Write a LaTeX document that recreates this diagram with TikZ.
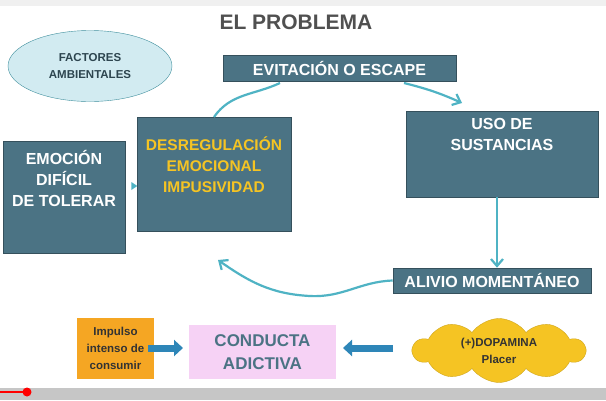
\documentclass[tikz,border=0pt]{standalone}
\usepackage{fontspec}
\setmainfont{Liberation Sans}
\usetikzlibrary{shapes.geometric,shapes.symbols,arrows.meta}
\definecolor{slate}{HTML}{4B7384}
\definecolor{teal}{HTML}{4FB3C4}
\definecolor{ell}{HTML}{D2EBF1}
\definecolor{ora}{HTML}{F5A623}
\definecolor{pink}{HTML}{F6D2F5}
\definecolor{yel}{HTML}{F5C423}
\definecolor{arrb}{HTML}{2E86B8}
\definecolor{titleg}{HTML}{505050}
\begin{document}
\begin{tikzpicture}[x=1pt,y=-1pt,
  box/.style={draw=slate!70!black,fill=slate,text=white,font=\bfseries\fontsize{16}{18}\selectfont,inner sep=0pt,align=center,line width=0.6pt},
  curv/.style={draw=teal,line width=2.2pt,-{Straight Barb[length=7pt,width=12pt]}},
  thickarr/.style={draw=arrb,line width=7pt,-{Triangle[length=9pt,width=16pt]}}]
\useasboundingbox (0,0) rectangle (606,400);
\fill[white] (0,0) rectangle (606,400);
\fill[gray!12] (0,0) rectangle (606,6);
\fill[gray!45] (0,388) rectangle (606,400);
\draw[red,line width=1.5pt] (0,392) -- (27,392);
\fill[red] (27,392) circle (4.5);
\node[font=\bfseries\fontsize{21}{23}\selectfont,text=titleg] (title) at (296,22) {EL PROBLEMA};
\node[ellipse,draw=teal!80!black,fill=ell,minimum width=164,minimum height=71,align=center,font=\bfseries\fontsize{11.5}{17}\selectfont,text=slate!60!black] (fact) at (90,66) {FACTORES\\AMBIENTALES};
\node[box,minimum width=233,minimum height=26] (evit) at (339.5,68) {EVITACIÓN O ESCAPE};
\node[box,minimum width=154,minimum height=114] (des) at (214,174) {};
\node[text=yel,font=\bfseries\fontsize{15.5}{21}\selectfont,align=center] (destx) at (214,165) {DESREGULACIÓN\\EMOCIONAL\\IMPUSIVIDAD};
\node[box,minimum width=122,minimum height=112] (emo) at (64,197) {};
\node[text=white,font=\bfseries\fontsize{16}{21}\selectfont,align=center] (emotx) at (64,178) {EMOCIÓN\\DIFÍCIL\\DE TOLERAR};
\node[box,minimum width=192,minimum height=86] (uso) at (502,154) {};
\node[text=white,font=\bfseries\fontsize{16}{21}\selectfont,align=center] (usotx) at (502,134) {USO DE\\SUSTANCIAS};
\node[box,minimum width=198,minimum height=25] (ali) at (492,280.5) {ALIVIO MOMENTÁNEO};
\node[fill=ora,minimum width=77,minimum height=61,inner sep=0pt,align=center,font=\bfseries\fontsize{11.5}{17}\selectfont,text=black!80] (imp) at (115.5,348.5) {Impulso\\intenso de\\consumir};
\node[fill=pink,minimum width=147,minimum height=54,inner sep=0pt,align=center,font=\bfseries\fontsize{17}{23}\selectfont,text=slate] (cond) at (262.5,352) {CONDUCTA\\ADICTIVA};
\node[cloud,cloud puffs=10,cloud puff arc=110,aspect=2.6,fill=yel,draw=yel!85!black,minimum width=172,minimum height=64,inner sep=0pt,align=center,font=\bfseries\fontsize{11.5}{17}\selectfont,text=black!80] (dop) at (499,350.5) {(+)DOPAMINA\\Placer};
% connectors
\coordinate (d1) at (214,117);
\coordinate (d2) at (280,83);
\draw[draw=teal,line width=2.2pt] (d1) to[out=55,in=205] (d2);
\coordinate (e1) at (404,83);
\coordinate (e2) at (462,103);
\draw[curv] (e1) to[bend left=5] (e2);
\draw[curv] (uso.south -| 497,0) -- (ali.north -| 497,0);
\coordinate (tipc) at (218,260);
\coordinate (low) at (310,296);
\draw[curv] (ali.west) to[out=182,in=-3] (low) to[out=177,in=-35] (tipc);
\fill[teal] (emo.east) ++(6,-15) -- ++(6,4) -- ++(-6,4) -- cycle;
\coordinate (ia) at (148,348);
\coordinate (ib) at (183,348);
\draw[thickarr] (ia) -- (ib);
\coordinate (da) at (393,348);
\coordinate (db) at (343,348);
\draw[thickarr] (da) -- (db);
\end{tikzpicture}
\end{document}
